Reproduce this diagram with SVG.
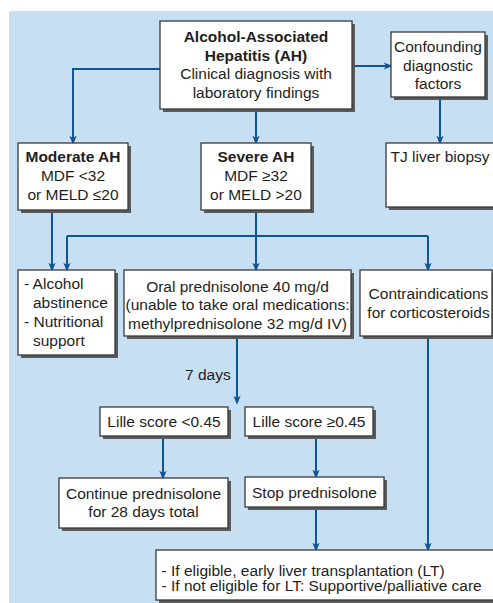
<svg xmlns="http://www.w3.org/2000/svg" width="493" height="603" viewBox="0 0 493 603">
<defs>
<marker id="ah" markerWidth="9" markerHeight="11" refX="9" refY="4.5" orient="auto" markerUnits="userSpaceOnUse" viewBox="0 0 11 9">
<path d="M0,0 L11,4.5 L0,9 L3,4.5 Z" fill="#0f5595"/>
</marker>
<filter id="sh" x="-5%" y="-5%" width="115%" height="120%">
<feOffset dx="0" dy="0"/>
</filter>
</defs>
<style>
.bx{fill:#fff;stroke:#3a3a3a;stroke-width:1.3}
.sd{fill:#5a5a5a}
.t{font-family:"Liberation Sans",Arial,sans-serif;font-size:15.5px;fill:#1e1e1e}
.c{text-anchor:middle}
.b{font-weight:bold}
.ln{fill:none;stroke:#0f5595;stroke-width:2}
.ar{marker-end:url(#ah)}
</style>
<rect x="0" y="0" width="493" height="603" fill="#fff"/>
<rect x="9" y="11" width="484" height="592" fill="#c6dff3"/>

<g id="connectors">
<path class="ln ar" d="M160 69 H73 V143"/>
<path class="ln ar" d="M256 109 V143"/>
<path class="ln ar" d="M352 66 H391"/>
<path class="ln ar" d="M440 97 V143"/>
<path class="ln ar" d="M52 210 V270"/>
<path class="ln" d="M256 210 V236"/>
<path class="ln" d="M67 236 H428"/>
<path class="ln ar" d="M67 236 V270"/>
<path class="ln ar" d="M256 236 V270"/>
<path class="ln ar" d="M428 236 V270"/>
<path class="ln ar" d="M237 336 V403"/>
<path class="ln ar" d="M163 436 V478"/>
<path class="ln ar" d="M316 436 V477"/>
<path class="ln ar" d="M316 507 V550"/>
<path class="ln ar" d="M428 336 V550"/>
</g>

<g id="top">
<rect class="sd" x="163" y="24" width="192" height="88"/>
<rect class="bx" x="160" y="21" width="192" height="88"/>
<text class="t c b" x="256" y="41.5">Alcohol-Associated</text>
<text class="t c b" x="256" y="60.5">Hepatitis (AH)</text>
<text class="t c" x="256" y="79">Clinical diagnosis with</text>
<text class="t c" x="256" y="97.5">laboratory findings</text>
</g>

<g id="confounding">
<rect class="sd" x="394" y="35" width="94" height="65"/>
<rect class="bx" x="391" y="32" width="94" height="65"/>
<text class="t c" x="438" y="52">Confounding</text>
<text class="t c" x="438" y="70.5">diagnostic</text>
<text class="t c" x="438" y="89">factors</text>
</g>

<g id="moderate">
<rect class="sd" x="21" y="146" width="110" height="67"/>
<rect class="bx" x="18" y="143" width="110" height="67"/>
<text class="t c b" x="73" y="161.5">Moderate AH</text>
<text class="t c" x="73" y="181">MDF &lt;32</text>
<text class="t c" x="73" y="200">or MELD ≤20</text>
</g>

<g id="severe">
<rect class="sd" x="204" y="146" width="110" height="67"/>
<rect class="bx" x="201" y="143" width="110" height="67"/>
<text class="t c b" x="256" y="161.5">Severe AH</text>
<text class="t c" x="256" y="181">MDF ≥32</text>
<text class="t c" x="256" y="200">or MELD &gt;20</text>
</g>

<g id="biopsy">
<rect class="sd" x="389" y="146" width="110" height="64"/>
<rect class="bx" x="386" y="143" width="112" height="64"/>
<text class="t" x="390.5" y="161.5">TJ liver biopsy</text>
</g>

<g id="abstinence">
<rect class="sd" x="21" y="273" width="97" height="85"/>
<rect class="bx" x="18" y="270" width="97" height="85"/>
<text class="t" x="24" y="288.5">- Alcohol</text>
<text class="t" x="33" y="307.5">abstinence</text>
<text class="t" x="24" y="327">- Nutritional</text>
<text class="t" x="33" y="346">support</text>
</g>

<g id="oral">
<rect class="sd" x="127" y="273" width="227" height="66"/>
<rect class="bx" x="124" y="270" width="227" height="66"/>
<text class="t c" x="237.5" y="291.5">Oral prednisolone 40 mg/d</text>
<text class="t c" x="237.5" y="310">(unable to take oral medications:</text>
<text class="t c" x="237.5" y="328.5">methylprednisolone 32 mg/d IV)</text>
</g>

<g id="contra">
<rect class="sd" x="363" y="273" width="133" height="66"/>
<rect class="bx" x="360" y="270" width="132" height="66"/>
<text class="t c" x="428.5" y="298.5">Contraindications</text>
<text class="t c" x="428.5" y="317.5">for corticosteroids</text>
</g>

<text class="t" x="185" y="380">7 days</text>

<g id="lille-low">
<rect class="sd" x="103" y="410" width="128" height="29"/>
<rect class="bx" x="100" y="407" width="128" height="29"/>
<text class="t c" x="164" y="427">Lille score &lt;0.45</text>
</g>

<g id="lille-high">
<rect class="sd" x="248" y="410" width="128" height="29"/>
<rect class="bx" x="245" y="407" width="128" height="29"/>
<text class="t c" x="309" y="427">Lille score ≥0.45</text>
</g>

<g id="continue">
<rect class="sd" x="62" y="481" width="169" height="50"/>
<rect class="bx" x="59" y="478" width="169" height="50"/>
<text class="t c" x="143.5" y="498.5">Continue prednisolone</text>
<text class="t c" x="143.5" y="517">for 28 days total</text>
</g>

<g id="stop">
<rect class="sd" x="248" y="480" width="139" height="30"/>
<rect class="bx" x="245" y="477" width="139" height="30"/>
<text class="t c" x="314.5" y="498">Stop prednisolone</text>
</g>

<g id="final">
<rect class="sd" x="159" y="553" width="340" height="50"/>
<rect class="bx" x="156" y="550" width="340" height="50"/>
<text class="t" x="161.5" y="575.5">- If eligible, early liver transplantation (LT)</text>
<text class="t" x="161.5" y="591">- If not eligible for LT: Supportive/palliative care</text>
</g>
</svg>
